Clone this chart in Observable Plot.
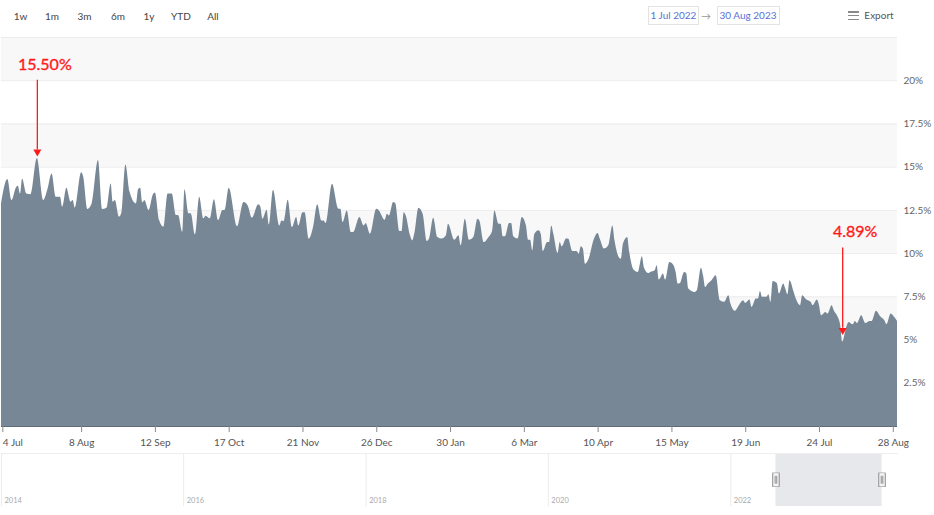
<!DOCTYPE html>
<html>
<head>
<meta charset="utf-8">
<script src="https://cdn.jsdelivr.net/npm/d3@7"></script>
<script src="https://cdn.jsdelivr.net/npm/@observablehq/plot@0.6"></script>
<style>
  html, body { margin: 0; padding: 0; background: #fff; }
  body { width: 934px; height: 515px; position: relative; overflow: hidden; font-family: Lato, "Noto Sans", sans-serif; }
  .tb { position: absolute; font-size: 10px; color: #444; transform: translate(-50%, -50%); white-space: nowrap; }
  .datebox { position: absolute; top: 6px; height: 19px; border: 1px solid #e3e3e3; box-sizing: border-box;
             font-size: 10px; color: #5a6fd6; line-height: 17px; padding: 0 2px; white-space: nowrap; }
  .burger { position: absolute; left: 848px; width: 11px; height: 1.3px; background: #8a8a8a; }
  #main, #nav { position: absolute; left: 0; }
  #main { top: 0; }
  #nav { top: 453px; }
</style>
</head>
<body>
<div id="main"></div>
<div id="nav"></div>
<script>
// ---------------- data ----------------
const dates = [
  "2022-07-01","2022-07-04","2022-07-06","2022-07-08","2022-07-09","2022-07-10","2022-07-11","2022-07-13","2022-07-15","2022-07-18","2022-07-21","2022-07-23","2022-07-25","2022-07-27","2022-07-29","2022-07-30",
  "2022-08-01","2022-08-03","2022-08-04","2022-08-05","2022-08-08","2022-08-09","2022-08-11","2022-08-13","2022-08-16","2022-08-18","2022-08-20","2022-08-22","2022-08-23","2022-08-24","2022-08-26","2022-08-27","2022-08-29","2022-08-31",
  "2022-09-03","2022-09-04","2022-09-05","2022-09-06","2022-09-07","2022-09-09","2022-09-11","2022-09-12","2022-09-14","2022-09-16","2022-09-18","2022-09-20","2022-09-22","2022-09-23","2022-09-25","2022-09-26","2022-09-28","2022-09-29",
  "2022-10-01","2022-10-03","2022-10-05","2022-10-06","2022-10-08","2022-10-10","2022-10-12","2022-10-14","2022-10-15","2022-10-17","2022-10-21","2022-10-24","2022-10-26","2022-10-28","2022-10-31",
  "2022-11-01","2022-11-02","2022-11-04","2022-11-05","2022-11-07","2022-11-10","2022-11-11","2022-11-12","2022-11-14","2022-11-16","2022-11-18","2022-11-19","2022-11-21","2022-11-22","2022-11-24","2022-11-26","2022-11-28","2022-11-30",
  "2022-12-01","2022-12-02","2022-12-05","2022-12-08","2022-12-09","2022-12-10","2022-12-12","2022-12-14","2022-12-15","2022-12-18","2022-12-20","2022-12-21","2022-12-23","2022-12-26","2022-12-27","2022-12-30","2022-12-31",
  "2023-01-01","2023-01-03","2023-01-04","2023-01-06","2023-01-07","2023-01-08","2023-01-09","2023-01-11","2023-01-12","2023-01-13","2023-01-15","2023-01-17","2023-01-19","2023-01-20","2023-01-22","2023-01-24","2023-01-26","2023-01-28","2023-01-29",
  "2023-02-01","2023-02-03","2023-02-04","2023-02-06","2023-02-08","2023-02-10","2023-02-12","2023-02-13","2023-02-15","2023-02-17","2023-02-19","2023-02-20","2023-02-22","2023-02-23","2023-02-24","2023-02-25","2023-02-27","2023-02-28",
  "2023-03-01","2023-03-03","2023-03-05","2023-03-07","2023-03-08","2023-03-09","2023-03-10","2023-03-11","2023-03-13","2023-03-14","2023-03-15","2023-03-17","2023-03-18","2023-03-19","2023-03-20","2023-03-22","2023-03-23","2023-03-24","2023-03-26","2023-03-27","2023-03-29","2023-03-31",
  "2023-04-01","2023-04-02","2023-04-03","2023-04-04","2023-04-06","2023-04-08","2023-04-10","2023-04-11","2023-04-13","2023-04-15","2023-04-17","2023-04-18","2023-04-20","2023-04-21","2023-04-22","2023-04-24","2023-04-25","2023-04-27","2023-04-29",
  "2023-05-01","2023-05-02","2023-05-04","2023-05-05","2023-05-07","2023-05-08","2023-05-09","2023-05-11","2023-05-12","2023-05-14","2023-05-16","2023-05-17","2023-05-18","2023-05-19","2023-05-21","2023-05-22","2023-05-23","2023-05-26","2023-05-27","2023-05-29","2023-05-30","2023-05-31",
  "2023-06-01","2023-06-03","2023-06-05","2023-06-07","2023-06-09","2023-06-11","2023-06-12","2023-06-14","2023-06-16","2023-06-18","2023-06-19","2023-06-21","2023-06-22","2023-06-24","2023-06-25","2023-06-26","2023-06-27","2023-06-29","2023-06-30",
  "2023-07-01","2023-07-02","2023-07-04","2023-07-05","2023-07-07","2023-07-08","2023-07-09","2023-07-10","2023-07-12","2023-07-13","2023-07-15","2023-07-16","2023-07-18","2023-07-20","2023-07-21","2023-07-23","2023-07-24","2023-07-25","2023-07-27","2023-07-28","2023-07-30","2023-07-31",
  "2023-08-02","2023-08-03","2023-08-04","2023-08-06","2023-08-07","2023-08-09","2023-08-10","2023-08-11","2023-08-13","2023-08-15","2023-08-17","2023-08-18","2023-08-20","2023-08-22","2023-08-24","2023-08-25","2023-08-27","2023-08-28","2023-08-30"
];
const rates = [
  12.88,14.28,13.07,13.78,13.90,13.45,14.32,13.45,13.41,15.50,13.07,13.70,14.61,13.26,13.26,12.69,
  13.78,12.97,13.07,12.63,14.67,14.42,12.55,12.88,15.38,12.55,12.63,14.03,12.97,13.07,12.11,12.30,15.13,13.55,
  12.88,13.70,13.78,12.93,13.07,12.49,13.39,13.51,11.91,11.53,13.45,13.45,12.20,12.20,11.24,13.70,12.30,12.30,
  11.09,13.26,12.01,12.16,12.01,13.12,11.91,12.49,12.49,13.78,11.55,12.95,12.76,12.05,12.82,
  12.70,11.99,12.51,11.66,13.67,11.60,11.89,11.85,13.09,11.51,12.09,11.60,12.37,12.37,10.84,11.51,12.82,11.89,
  11.89,11.74,14.01,12.57,12.57,11.80,12.47,11.22,11.22,12.09,11.60,11.74,11.12,12.57,12.51,11.93,12.28,
  12.18,12.95,12.89,11.28,11.28,12.37,12.18,11.03,10.74,11.12,12.63,12.28,10.70,10.84,12.05,10.93,10.84,11.03,11.70,
  10.78,11.03,10.45,11.99,10.78,10.93,11.99,11.85,10.64,10.89,11.32,12.47,11.70,11.70,10.97,10.97,11.74,11.74,
  10.97,10.84,12.09,11.60,10.78,10.78,10.16,11.12,11.32,11.12,10.12,10.64,10.64,11.60,11.12,10.01,10.64,10.39,10.84,10.84,10.12,10.12,
  9.97,10.39,10.26,9.39,9.78,10.74,11.16,10.84,10.26,10.45,11.60,10.74,9.78,9.68,10.55,10.93,10.06,9.05,8.91,
  9.82,9.16,8.85,8.91,9.01,9.30,8.47,8.82,8.47,9.49,9.30,8.91,8.24,8.27,8.91,8.85,7.95,7.75,7.85,9.16,8.72,8.04,
  8.20,8.43,8.72,7.27,7.18,7.56,7.08,6.66,6.99,7.27,7.12,7.31,6.89,7.37,7.37,7.81,7.47,7.47,7.62,
  7.18,8.39,8.27,7.66,8.24,7.95,7.62,8.43,7.75,7.37,6.99,7.56,7.31,7.18,6.99,7.31,6.99,6.41,6.60,6.50,6.99,6.70,
  6.28,5.89,4.89,5.77,6.02,5.89,6.08,5.96,6.41,5.96,6.08,6.08,6.66,6.35,6.12,5.89,6.50,6.41,6.08
];
const xTicks = ["2022-07-04","2022-08-08","2022-09-12","2022-10-17","2022-11-21","2022-12-26","2023-01-30","2023-03-06","2023-04-10","2023-05-15","2023-06-19","2023-07-24","2023-08-28"];
const yTicks = [2.5, 5, 7.5, 10, 12.5, 15, 17.5, 20];
const gridLevels = [2.5, 5, 7.5, 10, 12.5, 15, 17.5, 20, 22.5];
const bandStarts = [0, 5, 10, 15, 20];
const rangeButtons = ["1w", "1m", "3m", "6m", "1y", "YTD", "All"];
const rangeStart = "2022-07-01";
const rangeEnd = "2023-08-30";
const navYears = [2014, 2016, 2018, 2020, 2022];

// ---------------- toolbar ----------------
const btnX = [20.5, 52, 84.5, 118, 149, 181, 213];
rangeButtons.forEach((b, i) => {
  const el = document.createElement("div");
  el.className = "tb"; el.textContent = b;
  el.style.left = btnX[i] + "px"; el.style.top = "16px";
  document.body.appendChild(el);
});
const fmtBox = d3.utcFormat("%-d %b %Y");
[[rangeStart, 647.5], [rangeEnd, 716.5]].forEach(([d, x]) => {
  const el = document.createElement("div");
  el.className = "datebox"; el.textContent = fmtBox(new Date(d));
  el.style.left = x + "px";
  document.body.appendChild(el);
});
const arrowEl = document.createElement("div");
arrowEl.className = "tb"; arrowEl.textContent = "→"; arrowEl.style.color = "#999";
arrowEl.style.left = "706px"; arrowEl.style.top = "16px";
document.body.appendChild(arrowEl);
[11.3, 15, 18.7].forEach(t => {
  const el = document.createElement("div");
  el.className = "burger"; el.style.top = t + "px";
  document.body.appendChild(el);
});
const exp = document.createElement("div");
exp.className = "tb"; exp.textContent = "Export"; exp.style.color = "#555";
exp.style.left = "879px"; exp.style.top = "15px";
document.body.appendChild(exp);

// ---------------- main chart ----------------
const data = dates.map((d, i) => ({date: new Date(d), rate: rates[i]}));
const xStart = new Date(rangeStart), xEnd = new Date(rangeEnd);
const peak = d3.greatest(data, d => d.rate);
const low = d3.least(data, d => d.rate);
const label = d => d.rate.toFixed(2) + "%";
const fmtTick = d3.utcFormat("%-d %b");
const tickDates = xTicks.map(d => new Date(d));

const main = Plot.plot({
  width: 934,
  height: 453,
  marginTop: 37,
  marginBottom: 27,
  marginLeft: 1,
  marginRight: 37,
  x: {type: "utc", domain: [xStart, xEnd]},
  y: {domain: [0, 22.5]},
  style: {fontFamily: "Lato, 'Noto Sans', sans-serif", fontSize: "10px", color: "#555", background: "transparent", overflow: "visible"},
  marks: [
    Plot.rect(bandStarts, {x1: () => xStart, x2: () => xEnd, y1: d => d, y2: d => d + 2.5, fill: "#f8f8f8"}),
    Plot.ruleY(gridLevels, {stroke: "#ececec", strokeWidth: 1}),
    Plot.areaY(data, {x: "date", y: "rate", fill: "#788796", curve: "monotone-x"}),
    Plot.ruleY([0], {stroke: "#5e6a77", strokeWidth: 1.2}),
    Plot.axisX({ticks: tickDates.slice(0, 1), tickFormat: fmtTick, tickSize: 6, tickPadding: 6, stroke: "#8a8a8a", textAnchor: "start", dx: -5, fill: "#555", label: null}),
    Plot.axisX({ticks: tickDates.slice(1), tickFormat: fmtTick, tickSize: 6, tickPadding: 6, stroke: "#8a8a8a", fill: "#555", label: null}),
    Plot.axisY({anchor: "right", ticks: yTicks, tickFormat: d => d + "%", tickSize: 0, tickPadding: 6, fill: "#666", label: null}),
    // annotation: maximum
    Plot.ruleX([peak], {x: "date", y1: d => d.rate + 4.53, y2: d => d.rate + 0.5, stroke: "#ff1a1a", strokeWidth: 1.3}),
    Plot.dot([peak], {x: "date", y: d => d.rate + 0.39, symbol: "triangle", rotate: 180, r: 3, fill: "#ff1a1a", stroke: "none"}),
    Plot.text([peak], {x: "date", y: "rate", text: label, dx: 7.5, dy: -94, fill: "#ff1a1a", stroke: "#ff1a1a", strokeWidth: 0.35, fontSize: 16}),
    // annotation: minimum
    Plot.ruleX([low], {x: "date", y1: d => d.rate + 5.44, y2: d => d.rate + 0.8, stroke: "#ff1a1a", strokeWidth: 1.3}),
    Plot.dot([low], {x: "date", y: d => d.rate + 0.67, symbol: "triangle", rotate: 180, r: 3, fill: "#ff1a1a", stroke: "none"}),
    Plot.text([low], {x: "date", y: "rate", text: label, dx: 12.5, dy: -110, fill: "#ff1a1a", stroke: "#ff1a1a", strokeWidth: 0.35, fontSize: 16})
  ]
});
document.getElementById("main").appendChild(main);

// ---------------- navigator ----------------
const navStart = new Date("2014-01-01"), navEnd = new Date("2023-11-04");
const sel = [{x1: xStart, x2: xEnd}];
const nav = Plot.plot({
  width: 934,
  height: 53,
  marginTop: 0,
  marginBottom: 0,
  marginLeft: 1,
  marginRight: 36,
  x: {type: "utc", domain: [navStart, navEnd]},
  y: {domain: [0, 1]},
  axis: null,
  style: {fontFamily: "Lato, 'Noto Sans', sans-serif", background: "transparent", overflow: "visible"},
  marks: [
    Plot.rect(sel, {x1: "x1", x2: "x2", y1: 0, y2: 1, fill: "#e6e8ec"}),
    Plot.ruleY([1], {stroke: "#eeeeee"}),
    Plot.ruleX(navYears, {x: d => new Date(Date.UTC(d, 0, 1)), y1: 0, y2: 1, stroke: "#ececec"}),
    Plot.text(navYears, {x: d => new Date(Date.UTC(d, 0, 1)), y: 0, text: d => String(d), textAnchor: "start", dx: 3, dy: -6, fontSize: 7.5, fill: "#aaaaaa"}),
    Plot.ruleX([xStart, xEnd], {y1: 0.36, y2: 0.63, stroke: "#8c8c8c", strokeWidth: 7.5}),
    Plot.ruleX([xStart, xEnd], {y1: 0.37, y2: 0.62, stroke: "#f4f4f4", strokeWidth: 5.5}),
    Plot.ruleX([xStart, xEnd], {y1: 0.42, y2: 0.57, stroke: "#8c8c8c", strokeWidth: 1, dx: -0.8}),
    Plot.ruleX([xStart, xEnd], {y1: 0.42, y2: 0.57, stroke: "#8c8c8c", strokeWidth: 1, dx: 0.8})
  ]
});
document.getElementById("nav").appendChild(nav);
</script>
</body>
</html>
